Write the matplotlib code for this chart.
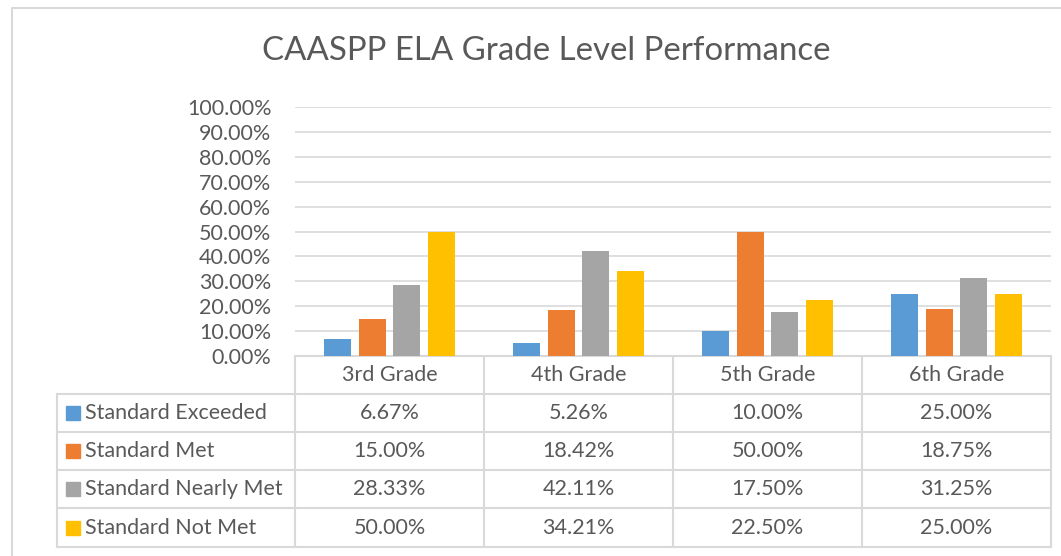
import matplotlib
matplotlib.use('Agg')
import matplotlib.pyplot as plt
from matplotlib.patches import Rectangle
import numpy as np

grades = ['3rd Grade', '4th Grade', '5th Grade', '6th Grade']
series = ['Standard Exceeded', 'Standard Met', 'Standard Nearly Met', 'Standard Not Met']
exceeded = [6.67, 5.26, 10.00, 25.00]
met = [15.00, 18.42, 50.00, 18.75]
nearly_met = [28.33, 42.11, 17.50, 31.25]
not_met = [50.00, 34.21, 22.50, 25.00]
colors = ['#5B9BD5', '#ED7D31', '#A5A5A5', '#FFC000']
yticks = [0, 10, 20, 30, 40, 50, 60, 70, 80, 90, 100]

values = [exceeded, met, nearly_met, not_met]
txt = '#595959'
grid = '#D9D9D9'
fs = 15.5
plt.rcParams['font.family'] = ['Lato', 'DejaVu Sans']

W, H = 1061, 556
fig = plt.figure(figsize=(W / 100, H / 100), dpi=100)

# pixel-space background axes for border and table
bg = fig.add_axes([0, 0, 1, 1])
bg.set_xlim(0, W)
bg.set_ylim(H, 0)
bg.axis('off')
bg.plot([12, 12, W], [H, 8, 8], color=grid, lw=1.5)

bg.text(546, 51, 'CAASPP ELA Grade Level Performance', ha='center', va='center',
        fontsize=23.8, color=txt)

# plot area
x0, x1, ytop, ybot = 295, 1051, 107, 356
ax = fig.add_axes([x0 / W, 1 - ybot / H, (x1 - x0) / W, (ybot - ytop) / H])
x = np.arange(len(grades))
bw = 0.145
step = 0.1825
for i, (s, v) in enumerate(zip(series, values)):
    ax.bar(x + (i - 1.5) * step, v, width=bw, color=colors[i], label=s, zorder=3)
ax.set_xlim(-0.5, len(grades) - 0.5)
ax.set_ylim(0, 100)
ax.set_yticks(yticks)
ax.set_yticklabels([f'{t:.2f}%' for t in yticks], fontsize=fs, color=txt)
ax.tick_params(axis='y', length=0, pad=17)
ax.set_xticks([])
ax.grid(axis='y', color=grid, lw=1.2, zorder=0)
for sp in ['left', 'right', 'top']:
    ax.spines[sp].set_visible(False)
ax.spines['bottom'].set_color(grid)
ax.spines['bottom'].set_linewidth(1.5)

# data table
colw = (x1 - x0) / len(grades)
left = 57
rows = [394, 432, 470, 508, 547]
for k in range(len(grades) + 1):
    xc = x0 + k * colw
    bg.plot([xc, xc], [ybot, rows[-1]], color=grid, lw=1.5)
bg.plot([left, left], [rows[0], rows[-1]], color=grid, lw=1.5)
for r in rows:
    bg.plot([left, x1], [r, r], color=grid, lw=1.5)
for j, g in enumerate(grades):
    bg.text(x0 + (j + 0.5) * colw, (ybot + rows[0]) / 2, g, ha='center', va='center',
            fontsize=fs, color=txt)
for i, (s, v) in enumerate(zip(series, values)):
    yc = (rows[i] + rows[i + 1]) / 2
    bg.add_patch(Rectangle((66, yc - 7), 14, 14, color=colors[i]))
    bg.text(85, yc, s, ha='left', va='center', fontsize=fs, color=txt)
    for j, val in enumerate(v):
        bg.text(x0 + (j + 0.5) * colw, yc, f'{val:.2f}%', ha='center', va='center',
                fontsize=fs, color=txt)

fig.savefig('out.png', dpi=100)
